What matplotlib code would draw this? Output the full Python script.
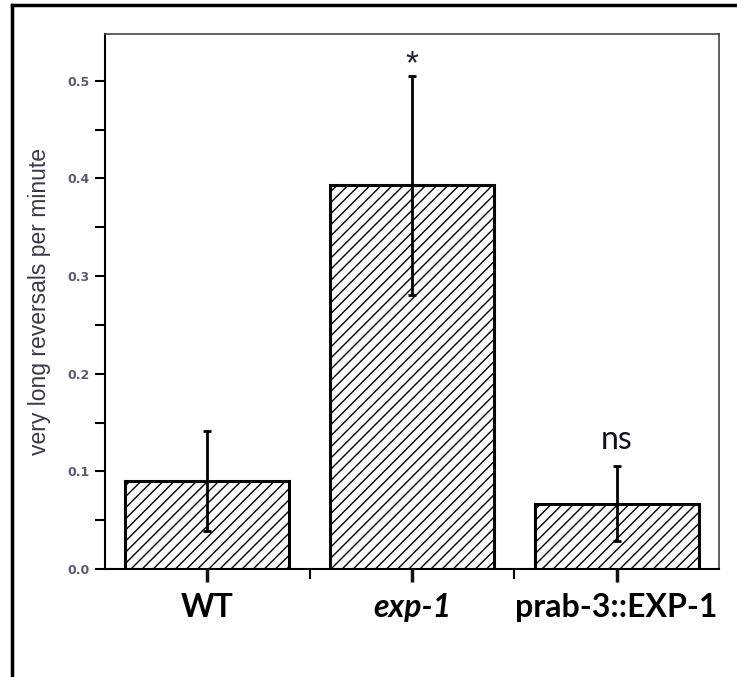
import numpy as np
import matplotlib
matplotlib.use('Agg')
import matplotlib.pyplot as plt
from matplotlib.lines import Line2D
from matplotlib.ticker import MultipleLocator, FixedLocator

# mean very long reversals per minute and error bars
strains = ['WT', 'exp-1', 'prab-3::EXP-1']
means = [0.090, 0.393, 0.067]
errs = [0.051, 0.112, 0.038]
signif = ['', '*', 'ns']

plt.rcParams['hatch.linewidth'] = 1.0

fig = plt.figure(figsize=(7.37, 6.77), dpi=100)
ax = fig.add_axes([105/737, 1-569/677, 614/737, 535/677])

x = np.arange(1, len(strains)+1)
ax.bar(x, means, width=0.8, color='white', edgecolor='black', linewidth=2.2,
       hatch='///', zorder=2)
ax.errorbar(x, means, yerr=errs, fmt='none', ecolor='black', elinewidth=2,
            capsize=3, capthick=2, zorder=3)

ax.set_xlim(0.5, 3.5)
ax.set_ylim(0, 0.548)
ax.set_yticks([0.0, 0.1, 0.2, 0.3, 0.4, 0.5])
ax.set_yticklabels(['0.0', '0.1', '0.2', '0.3', '0.4', '0.5'],
                   fontsize=9, color='#5a5a6e', fontweight='bold')
ax.yaxis.set_minor_locator(MultipleLocator(0.05))
ax.set_xticks(x)
ax.xaxis.set_minor_locator(FixedLocator([1.5, 2.5]))
ax.set_xticklabels(strains, fontsize=23, fontweight='bold', family='Lato')
ax.get_xticklabels()[1].set_style('italic')
ax.tick_params(axis='y', which='both', direction='out', length=7, width=1.5, pad=4)
ax.tick_params(axis='x', which='minor', direction='out', length=7, width=1.5)
ax.tick_params(axis='x', which='major', direction='out', length=9, width=2.5,
               color='#111111', pad=8)

for side in ['left', 'bottom']:
    ax.spines[side].set_linewidth(1.5)
for side in ['top', 'right']:
    ax.spines[side].set_linewidth(1.2)
    ax.spines[side].set_color('#444444')

ax.set_ylabel('very long reversals per minute', fontsize=16.5, color='#3a3a4a',
              family='Liberation Sans', labelpad=12)

# significance marks above the error bars
for xi, m, e, s in zip(x, means, errs, signif):
    if s == '*':
        ax.text(xi, m + e - 0.004, s, ha='center', va='bottom', fontsize=24,
                color='#222233', family='Liberation Sans')
    elif s:
        ax.text(xi, m + e + 0.012, s, ha='center', va='bottom', fontsize=23,
                family='Lato', color='#111122')

# outer frame
fig.add_artist(Line2D([12/737, 12/737], [0, 1-5/677], color='black', lw=2.5))
fig.add_artist(Line2D([12/737, 1], [1-5/677, 1-5/677], color='black', lw=2.5))

fig.savefig('out.png', dpi=100)
